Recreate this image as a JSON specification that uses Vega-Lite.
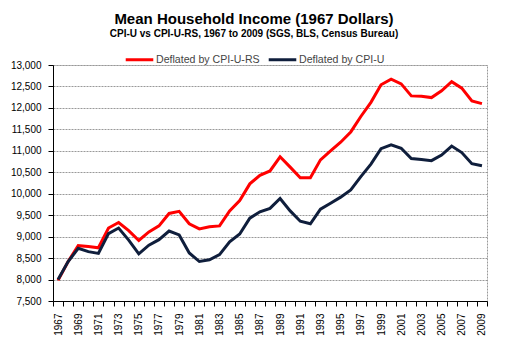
{
  "$schema": "https://vega.github.io/schema/vega-lite/v6.json",
  "width": 434,
  "height": 236,
  "autosize": "none",
  "padding": {"left": 53, "top": 65, "right": 21, "bottom": 56},
  "background": "white",
  "title": {
    "text": "Mean Household Income (1967 Dollars)",
    "subtitle": "CPI-U vs CPI-U-RS, 1967 to 2009 (SGS, BLS, Census Bureau)",
    "anchor": "middle",
    "frame": "group",
    "dx": -16,
    "offset": 5,
    "font": "Liberation Sans",
    "fontSize": 15,
    "fontWeight": "bold",
    "color": "black",
    "subtitleFont": "Liberation Sans",
    "subtitleFontSize": 10,
    "subtitleFontWeight": "bold",
    "subtitleColor": "black",
    "subtitlePadding": 2
  },
  "config": {
    "view": {"stroke": "#999999", "strokeDash": [2, 1], "strokeWidth": 1},
    "axis": {
      "labelFont": "Liberation Sans",
      "labelFontSize": 10,
      "labelColor": "black",
      "domainColor": "black",
      "tickColor": "black",
      "tickSize": 5,
      "title": null
    }
  },
  "data": {
    "values": [
      {"year": 1967, "series": "Deflated by CPI-U-RS", "value": 7980},
      {"year": 1968, "series": "Deflated by CPI-U-RS", "value": 8420},
      {"year": 1969, "series": "Deflated by CPI-U-RS", "value": 8790},
      {"year": 1970, "series": "Deflated by CPI-U-RS", "value": 8770},
      {"year": 1971, "series": "Deflated by CPI-U-RS", "value": 8740},
      {"year": 1972, "series": "Deflated by CPI-U-RS", "value": 9200},
      {"year": 1973, "series": "Deflated by CPI-U-RS", "value": 9330},
      {"year": 1974, "series": "Deflated by CPI-U-RS", "value": 9140},
      {"year": 1975, "series": "Deflated by CPI-U-RS", "value": 8910},
      {"year": 1976, "series": "Deflated by CPI-U-RS", "value": 9110},
      {"year": 1977, "series": "Deflated by CPI-U-RS", "value": 9250},
      {"year": 1978, "series": "Deflated by CPI-U-RS", "value": 9540},
      {"year": 1979, "series": "Deflated by CPI-U-RS", "value": 9590},
      {"year": 1980, "series": "Deflated by CPI-U-RS", "value": 9300},
      {"year": 1981, "series": "Deflated by CPI-U-RS", "value": 9180},
      {"year": 1982, "series": "Deflated by CPI-U-RS", "value": 9230},
      {"year": 1983, "series": "Deflated by CPI-U-RS", "value": 9250},
      {"year": 1984, "series": "Deflated by CPI-U-RS", "value": 9600},
      {"year": 1985, "series": "Deflated by CPI-U-RS", "value": 9840},
      {"year": 1986, "series": "Deflated by CPI-U-RS", "value": 10230},
      {"year": 1987, "series": "Deflated by CPI-U-RS", "value": 10430},
      {"year": 1988, "series": "Deflated by CPI-U-RS", "value": 10530},
      {"year": 1989, "series": "Deflated by CPI-U-RS", "value": 10860},
      {"year": 1990, "series": "Deflated by CPI-U-RS", "value": 10620},
      {"year": 1991, "series": "Deflated by CPI-U-RS", "value": 10370},
      {"year": 1992, "series": "Deflated by CPI-U-RS", "value": 10370},
      {"year": 1993, "series": "Deflated by CPI-U-RS", "value": 10790},
      {"year": 1994, "series": "Deflated by CPI-U-RS", "value": 11000},
      {"year": 1995, "series": "Deflated by CPI-U-RS", "value": 11200},
      {"year": 1996, "series": "Deflated by CPI-U-RS", "value": 11440},
      {"year": 1997, "series": "Deflated by CPI-U-RS", "value": 11800},
      {"year": 1998, "series": "Deflated by CPI-U-RS", "value": 12130},
      {"year": 1999, "series": "Deflated by CPI-U-RS", "value": 12540},
      {"year": 2000, "series": "Deflated by CPI-U-RS", "value": 12670},
      {"year": 2001, "series": "Deflated by CPI-U-RS", "value": 12560},
      {"year": 2002, "series": "Deflated by CPI-U-RS", "value": 12280},
      {"year": 2003, "series": "Deflated by CPI-U-RS", "value": 12270},
      {"year": 2004, "series": "Deflated by CPI-U-RS", "value": 12240},
      {"year": 2005, "series": "Deflated by CPI-U-RS", "value": 12400},
      {"year": 2006, "series": "Deflated by CPI-U-RS", "value": 12610},
      {"year": 2007, "series": "Deflated by CPI-U-RS", "value": 12460},
      {"year": 2008, "series": "Deflated by CPI-U-RS", "value": 12160},
      {"year": 2009, "series": "Deflated by CPI-U-RS", "value": 12100},
      {"year": 1967, "series": "Deflated by CPI-U", "value": 8000},
      {"year": 1968, "series": "Deflated by CPI-U", "value": 8420},
      {"year": 1969, "series": "Deflated by CPI-U", "value": 8730},
      {"year": 1970, "series": "Deflated by CPI-U", "value": 8650},
      {"year": 1971, "series": "Deflated by CPI-U", "value": 8610},
      {"year": 1972, "series": "Deflated by CPI-U", "value": 9070},
      {"year": 1973, "series": "Deflated by CPI-U", "value": 9200},
      {"year": 1974, "series": "Deflated by CPI-U", "value": 8920},
      {"year": 1975, "series": "Deflated by CPI-U", "value": 8600},
      {"year": 1976, "series": "Deflated by CPI-U", "value": 8800},
      {"year": 1977, "series": "Deflated by CPI-U", "value": 8930},
      {"year": 1978, "series": "Deflated by CPI-U", "value": 9130},
      {"year": 1979, "series": "Deflated by CPI-U", "value": 9040},
      {"year": 1980, "series": "Deflated by CPI-U", "value": 8620},
      {"year": 1981, "series": "Deflated by CPI-U", "value": 8420},
      {"year": 1982, "series": "Deflated by CPI-U", "value": 8460},
      {"year": 1983, "series": "Deflated by CPI-U", "value": 8580},
      {"year": 1984, "series": "Deflated by CPI-U", "value": 8880},
      {"year": 1985, "series": "Deflated by CPI-U", "value": 9060},
      {"year": 1986, "series": "Deflated by CPI-U", "value": 9430},
      {"year": 1987, "series": "Deflated by CPI-U", "value": 9580},
      {"year": 1988, "series": "Deflated by CPI-U", "value": 9660},
      {"year": 1989, "series": "Deflated by CPI-U", "value": 9890},
      {"year": 1990, "series": "Deflated by CPI-U", "value": 9600},
      {"year": 1991, "series": "Deflated by CPI-U", "value": 9360},
      {"year": 1992, "series": "Deflated by CPI-U", "value": 9300},
      {"year": 1993, "series": "Deflated by CPI-U", "value": 9640},
      {"year": 1994, "series": "Deflated by CPI-U", "value": 9780},
      {"year": 1995, "series": "Deflated by CPI-U", "value": 9920},
      {"year": 1996, "series": "Deflated by CPI-U", "value": 10090},
      {"year": 1997, "series": "Deflated by CPI-U", "value": 10400},
      {"year": 1998, "series": "Deflated by CPI-U", "value": 10690},
      {"year": 1999, "series": "Deflated by CPI-U", "value": 11050},
      {"year": 2000, "series": "Deflated by CPI-U", "value": 11140},
      {"year": 2001, "series": "Deflated by CPI-U", "value": 11060},
      {"year": 2002, "series": "Deflated by CPI-U", "value": 10820},
      {"year": 2003, "series": "Deflated by CPI-U", "value": 10800},
      {"year": 2004, "series": "Deflated by CPI-U", "value": 10770},
      {"year": 2005, "series": "Deflated by CPI-U", "value": 10900},
      {"year": 2006, "series": "Deflated by CPI-U", "value": 11110},
      {"year": 2007, "series": "Deflated by CPI-U", "value": 10960},
      {"year": 2008, "series": "Deflated by CPI-U", "value": 10700},
      {"year": 2009, "series": "Deflated by CPI-U", "value": 10650}
    ]
  },
  "encoding": {
    "y": {
      "field": "value",
      "type": "quantitative",
      "scale": {"domain": [7500, 13000], "nice": false, "zero": false},
      "axis": {
        "values": [7500,8000,8500,9000,9500,10000,10500,11000,11500,12000,12500,13000],
        "format": ",d",
        "labelPadding": 7,
        "labelOverlap": false,
        "labelFlush": false,
        "grid": true,
        "gridColor": "#999999",
        "gridDash": [2, 1],
        "gridWidth": 1
      }
    }
  },
  "layer": [
    {
      "mark": {"type": "line", "strokeOpacity": 0},
      "encoding": {
        "x": {
          "field": "year",
          "type": "quantitative",
          "scale": {"domain": [1966.5, 2009.5], "nice": false, "zero": false},
          "axis": {
            "orient": "bottom",
            "values": [1966.5,1967.5,1968.5,1969.5,1970.5,1971.5,1972.5,1973.5,1974.5,1975.5,1976.5,1977.5,1978.5,1979.5,1980.5,1981.5,1982.5,1983.5,1984.5,1985.5,1986.5,1987.5,1988.5,1989.5,1990.5,1991.5,1992.5,1993.5,1994.5,1995.5,1996.5,1997.5,1998.5,1999.5,2000.5,2001.5,2002.5,2003.5,2004.5,2005.5,2006.5,2007.5,2008.5,2009.5],
            "labels": false,
            "grid": false,
            "domain": true,
            "ticks": true
          }
        },
        "detail": {"field": "series"}
      }
    },
    {
      "mark": {"type": "line", "strokeWidth": 3, "strokeJoin": "miter"},
      "encoding": {
        "x": {
          "field": "year",
          "type": "quantitative",
          "scale": {"domain": [1966.5, 2009.5], "nice": false, "zero": false},
          "axis": {
            "orient": "bottom",
            "values": [1967,1969,1971,1973,1975,1977,1979,1981,1983,1985,1987,1989,1991,1993,1995,1997,1999,2001,2003,2005,2007,2009],
            "format": "d",
            "ticks": false,
            "domain": false,
            "labelAngle": -90,
            "labelAlign": "right",
            "labelBaseline": "middle",
            "labelPadding": 12,
            "grid": false,
            "labelOverlap": false,
            "labelFlush": false
          }
        },
        "color": {
          "field": "series",
          "type": "nominal",
          "scale": {"domain": ["Deflated by CPI-U-RS", "Deflated by CPI-U"], "range": ["#ff0000", "#0f1e3c"]},
          "legend": {
            "title": null,
            "orient": "none",
            "direction": "horizontal",
            "legendX": 71,
            "legendY": -21,
            "symbolType": "stroke",
            "symbolSize": 760,
            "symbolStrokeWidth": 3,
            "labelFont": "Liberation Sans",
            "labelFontSize": 10.6,
            "labelColor": "#444444",
            "labelOffset": 1,
            "columnPadding": 2
          }
        },
        "order": {"field": "year"}
      }
    }
  ],
  "resolve": {"axis": {"x": "independent"}}
}
